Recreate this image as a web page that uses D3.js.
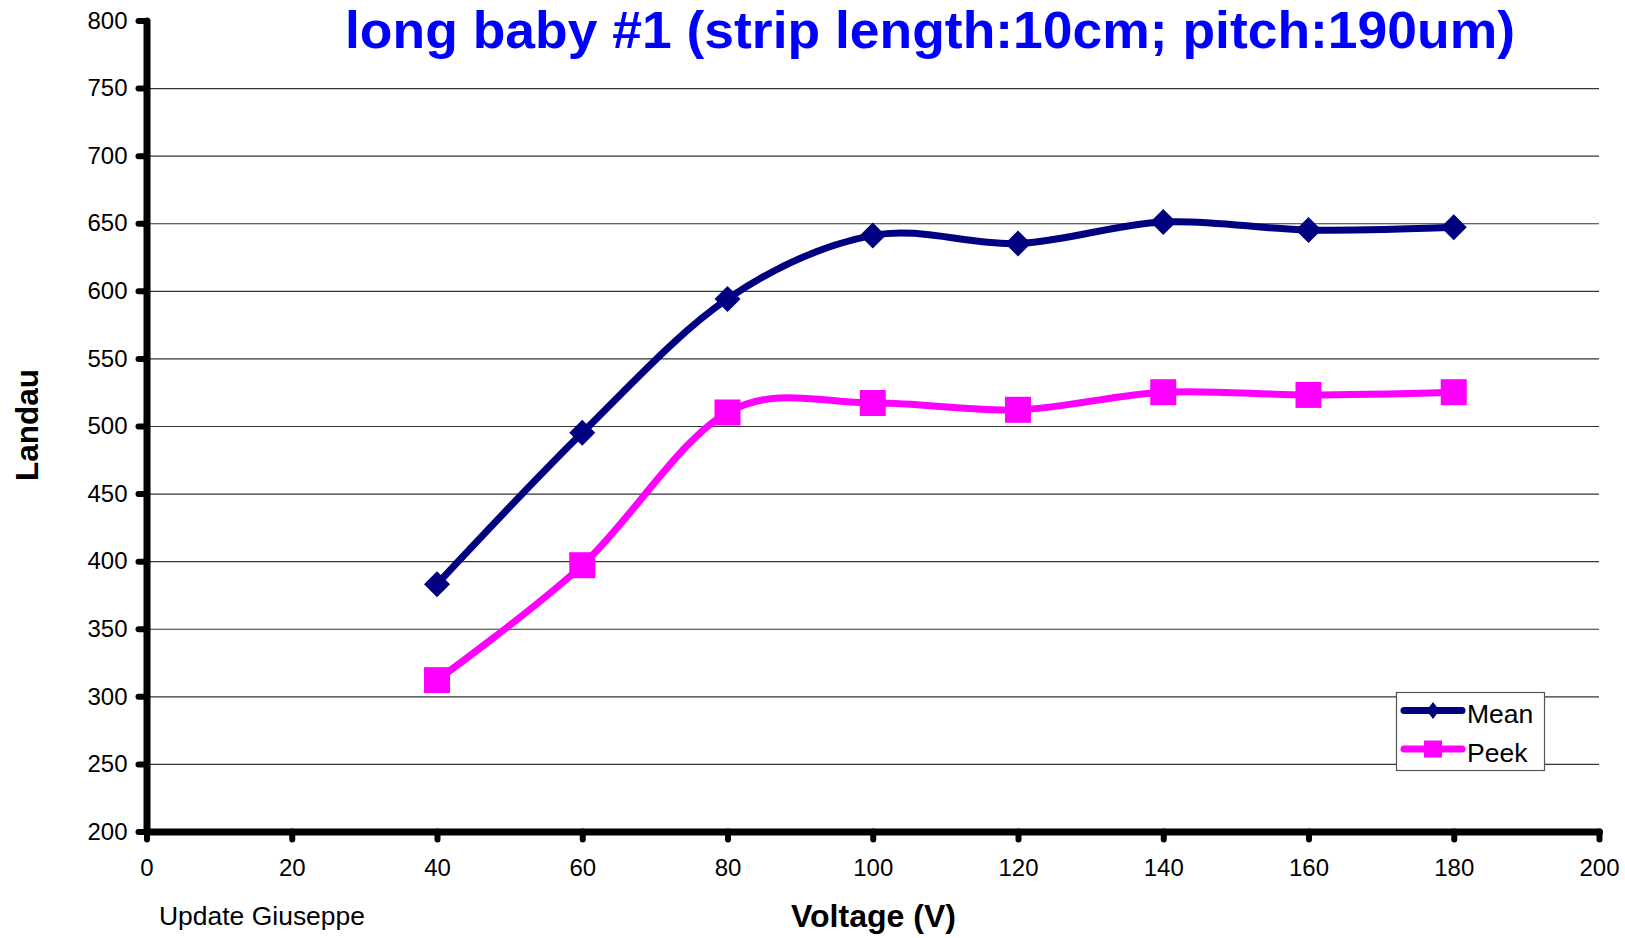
<!DOCTYPE html>
<html>
<head>
<meta charset="utf-8">
<script src="https://cdn.jsdelivr.net/npm/d3@7"></script>
<style>
  html, body { margin: 0; padding: 0; background: #fff; }
  svg { display: block; font-family: "Liberation Sans", Arial, sans-serif; }
</style>
</head>
<body>
<svg id="chart" width="1625" height="938"></svg>
<script>
// ---- data ----
const voltages = [40, 60, 80, 100, 120, 140, 160, 180];
const meanValues = [383, 495, 594, 641, 635, 651, 645, 647];
const peekValues = [312, 397, 510, 517, 512, 525, 523, 525];
const xTicks = [0, 20, 40, 60, 80, 100, 120, 140, 160, 180, 200];
const yTicks = [200, 250, 300, 350, 400, 450, 500, 550, 600, 650, 700, 750, 800];
const gridValues = [250, 300, 350, 400, 450, 500, 550, 600, 650, 700, 750];
const seriesNames = ["Mean", "Peek"];
const titleText = "long baby #1 (strip length:10cm; pitch:190um)";

// ---- layout ----
const svg = d3.select("#chart");
const x = d3.scaleLinear().domain([0, 200]).range([146.5, 1599]);
const y = d3.scaleLinear().domain([200, 800]).range([831.5, 20.5]);

// gridlines
const grid = svg.append("g")
  .attr("transform", `translate(${x(0)},0)`)
  .call(d3.axisLeft(y).tickValues(gridValues).tickSize(-(x(200) - x(0))).tickFormat(""));
grid.select(".domain").remove();
grid.selectAll("line").attr("stroke", "#333").attr("stroke-width", 1.2);

// y axis
const yAxis = svg.append("g")
  .attr("transform", `translate(${x(0)},0)`)
  .call(d3.axisLeft(y).tickValues(yTicks).tickSize(8).tickSizeOuter(0).tickPadding(11));
yAxis.select(".domain").attr("stroke", "#000").attr("stroke-width", 7).attr("stroke-linecap", "round");
yAxis.selectAll(".tick line").attr("stroke", "#000").attr("stroke-width", 6).attr("stroke-linecap", "round");
yAxis.selectAll(".tick text").attr("font-size", 24).attr("fill", "#000")
  .attr("font-family", "Liberation Sans, Arial, sans-serif");

// x axis
const xAxis = svg.append("g")
  .attr("transform", `translate(0,${y(200)})`)
  .call(d3.axisBottom(x).tickValues(xTicks).tickSize(8).tickSizeOuter(0).tickPadding(19));
xAxis.select(".domain").attr("stroke", "#000").attr("stroke-width", 7).attr("stroke-linecap", "round");
xAxis.selectAll(".tick line").attr("stroke", "#000").attr("stroke-width", 6).attr("stroke-linecap", "round");
xAxis.selectAll(".tick text").attr("font-size", 24).attr("fill", "#000")
  .attr("font-family", "Liberation Sans, Arial, sans-serif");

// series
const line = d3.line().curve(d3.curveCardinal.tension(0))
  .x(d => x(d[0])).y(d => y(d[1]));

const meanData = voltages.map((v, i) => [v, meanValues[i]]);
const peekData = voltages.map((v, i) => [v, peekValues[i]]);

const navy = "#000080", magenta = "#FF00FF";

svg.append("path").datum(peekData).attr("d", line)
  .attr("fill", "none").attr("stroke", magenta).attr("stroke-width", 7).attr("stroke-linejoin", "round");
svg.append("g").selectAll("rect").data(peekData).join("rect")
  .attr("x", d => x(d[0]) - 13).attr("y", d => y(d[1]) - 13)
  .attr("width", 26).attr("height", 26).attr("fill", magenta);

svg.append("path").datum(meanData).attr("d", line)
  .attr("fill", "none").attr("stroke", navy).attr("stroke-width", 7).attr("stroke-linejoin", "round");
const diamond = (cx, cy, hw, hh) => `M${cx},${cy - hh}L${cx + hw},${cy}L${cx},${cy + hh}L${cx - hw},${cy}Z`;
svg.append("g").selectAll("path").data(meanData).join("path")
  .attr("d", d => diamond(x(d[0]), y(d[1]), 13, 13)).attr("fill", navy);

// title
svg.append("text").attr("x", 345).attr("y", 48)
  .attr("font-size", 52).attr("font-weight", "bold").attr("fill", "#0000FF")
  .attr("textLength", 1170).attr("lengthAdjust", "spacingAndGlyphs")
  .text(titleText);

// axis titles
svg.append("text").attr("transform", "translate(38,425) rotate(-90)")
  .attr("text-anchor", "middle").attr("font-size", 31).attr("font-weight", "bold")
  .attr("textLength", 112).attr("lengthAdjust", "spacingAndGlyphs")
  .text("Landau");
svg.append("text").attr("x", 873.5).attr("y", 927)
  .attr("text-anchor", "middle").attr("font-size", 31).attr("font-weight", "bold")
  .attr("textLength", 165).attr("lengthAdjust", "spacingAndGlyphs")
  .text("Voltage (V)");
svg.append("text").attr("x", 159).attr("y", 925)
  .attr("font-size", 25).attr("textLength", 206).attr("lengthAdjust", "spacingAndGlyphs")
  .text("Update Giuseppe");

// legend
const lg = svg.append("g");
lg.append("rect").attr("x", 1396.5).attr("y", 692.5).attr("width", 148).attr("height", 78)
  .attr("fill", "#fff").attr("stroke", "#555").attr("stroke-width", 1.2);
const legendRows = [
  { name: seriesNames[0], color: navy, ly: 710.5, marker: "diamond" },
  { name: seriesNames[1], color: magenta, ly: 749, marker: "square" }
];
legendRows.forEach(r => {
  lg.append("line").attr("x1", 1404).attr("x2", 1462).attr("y1", r.ly).attr("y2", r.ly)
    .attr("stroke", r.color).attr("stroke-width", 7).attr("stroke-linecap", "round");
  if (r.marker === "diamond") {
    lg.append("path").attr("d", diamond(1433, r.ly, 6.5, 8.5)).attr("fill", r.color);
  } else {
    lg.append("rect").attr("x", 1433 - 9).attr("y", r.ly - 8.5).attr("width", 18).attr("height", 17).attr("fill", r.color);
  }
  lg.append("text").attr("x", 1467).attr("y", r.ly + 12.5).attr("font-size", 26.5).text(r.name);
});
</script>
</body>
</html>
